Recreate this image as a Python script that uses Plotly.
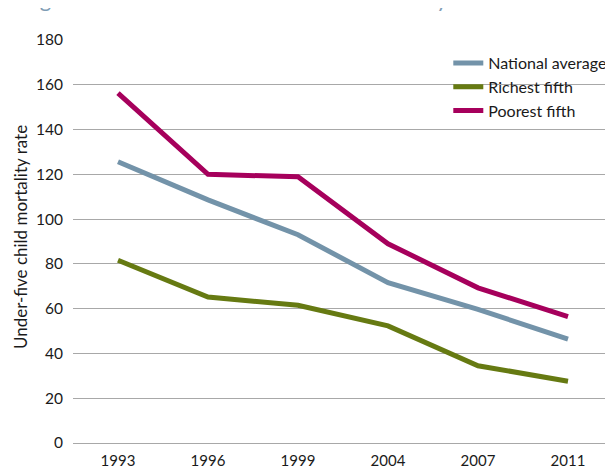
import plotly.graph_objects as go

years = ["1993", "1996", "1999", "2004", "2007", "2011"]
national_average = [125.6, 108.6, 93.0, 71.6, 59.7, 46.4]
richest_fifth = [81.6, 65.2, 61.5, 52.3, 34.5, 27.6]
poorest_fifth = [156.3, 120.0, 118.9, 89.0, 69.3, 56.4]

series = [
    ("National average", national_average, "#7393a9"),
    ("Richest fifth", richest_fifth, "#667a12"),
    ("Poorest fifth", poorest_fifth, "#a6005c"),
]

fig = go.Figure()
for name, values, color in series:
    fig.add_trace(go.Scatter(
        x=years, y=values, name=name, mode="lines",
        line=dict(color=color, width=5),
    ))

# the page puts the figure 8px in from the top-left corner, margins allow for that
fig.update_layout(
    width=613, height=472,
    margin=dict(l=65, r=8, t=32, b=37),
    paper_bgcolor="white", plot_bgcolor="white",
    font=dict(family="Lato, sans-serif", size=15, color="#1a1a1a"),
    showlegend=True,
    legend=dict(
        x=0.695, y=0.985, xanchor="left", yanchor="top",
        bgcolor="rgba(0,0,0,0)", font=dict(size=16),
        tracegroupgap=0,
    ),
)
fig.update_xaxes(
    type="category", range=[-0.5, 5.5], automargin=False,
    showgrid=False, zeroline=False, showline=False,
    ticks="", tickfont=dict(size=15), ticklabelstandoff=7,
)
fig.update_yaxes(
    range=[0, 180], tickvals=list(range(0, 181, 20)), automargin=False,
    showgrid=True, gridcolor="#a8a8a8", gridwidth=1.3,
    zeroline=True, zerolinecolor="#a8a8a8", zerolinewidth=1.3,
    showline=False, ticks="",
    ticklabelstandoff=9, tickfont=dict(size=15.5),
)

fig.add_annotation(
    text="Under-five child mortality rate",
    xref="paper", yref="paper", x=-0.097, y=0.51,
    xanchor="center", yanchor="middle", textangle=-90, showarrow=False,
    font=dict(size=17),
)

# figure heading, mostly cut off at the top edge
fig.add_annotation(
    text="Figure 4: Trends in under-five child mortality rate",
    xref="paper", yref="paper", x=-0.098, y=1.064,
    xanchor="left", yanchor="bottom", showarrow=False,
    font=dict(size=22, color="#7f9db5"),
)

fig.write_html("out.html")
